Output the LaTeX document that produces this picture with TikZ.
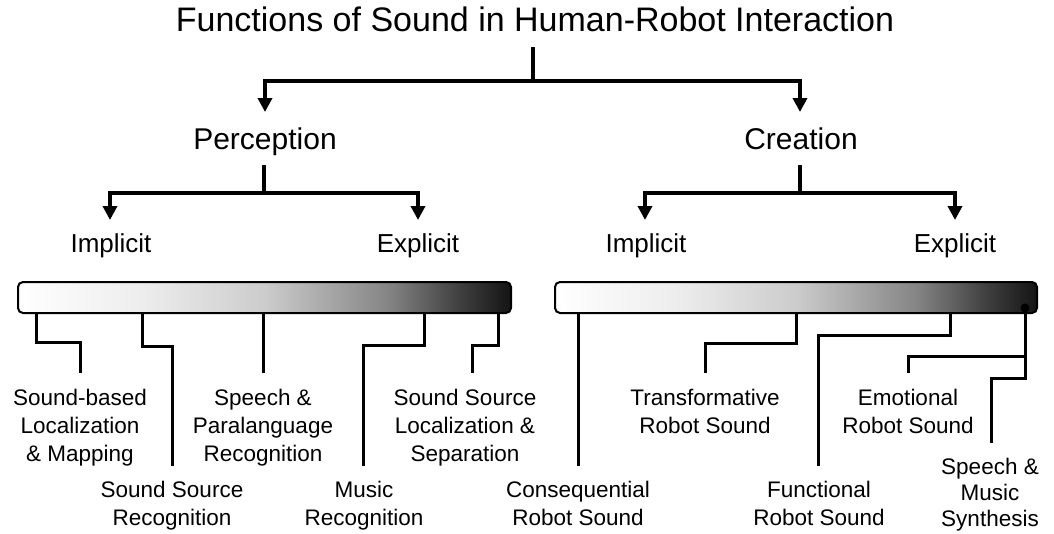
\documentclass[tikz,border=0pt]{standalone}
\usepackage{fontspec}
\setmainfont{Liberation Sans}
\usetikzlibrary{arrows.meta}
\pgfdeclarehorizontalshading{barshade}{100bp}{color(0bp)=(white); color(25bp)=(white); color(37.5bp)=(white!93!black); color(50bp)=(white!80!black); color(62.5bp)=(white!52!black); color(70bp)=(white!24!black); color(75bp)=(white!8!black); color(100bp)=(white!8!black)}
\begin{document}
\begin{tikzpicture}[x=1pt,y=-1pt,
  arr/.style={line width=4pt,-{Triangle[width=14pt,length=14pt]}},
  conn/.style={line width=3pt},
  bar/.style={draw=black,line width=2pt,rounded corners=5pt,shading=barshade,minimum width=493pt,minimum height=31pt,inner sep=0pt},
  ttl/.style={font=\fontsize{34}{40}\selectfont,anchor=base,inner sep=0pt},
  lvl/.style={font=\fontsize{30}{36}\selectfont,anchor=base,inner sep=0pt},
  sub/.style={font=\fontsize{26}{31}\selectfont,anchor=base,inner sep=0pt},
  leaf/.style={font=\fontsize{22.5}{28}\selectfont,anchor=north,align=center,inner sep=0pt}]
\useasboundingbox (0,0) rectangle (1054,533);

% texts
\node[ttl] (title) at (535,31) {Functions of Sound in Human-Robot Interaction};
\node[lvl] (perc) at (265,149) {Perception};
\node[lvl] (crea) at (801,149) {Creation};
\node[sub] (pimp) at (111,252) {Implicit};
\node[sub] (pexp) at (418,252) {Explicit};
\node[sub] (cimp) at (646,252) {Implicit};
\node[sub] (cexp) at (955,252) {Explicit};

% tree coordinates
\coordinate (ts) at (533,47);
\coordinate (tj) at (533,81);
\coordinate (pa) at (265,112);
\coordinate (ca) at (800,112);
\coordinate (ps) at (264,165);
\coordinate (pj) at (264,193);
\coordinate (pia) at (110,220);
\coordinate (pea) at (418,220);
\coordinate (cs) at (800,165);
\coordinate (cj) at (800,193);
\coordinate (cia) at (645,220);
\coordinate (cea) at (955,220);

\draw[arr] (ts) -- (tj) -| (pa);
\draw[arr] (ts) -- (tj) -| (ca);
\draw[arr] (ps) -- (pj) -| (pia);
\draw[arr] (ps) -- (pj) -| (pea);
\draw[arr] (cs) -- (cj) -| (cia);
\draw[arr] (cs) -- (cj) -| (cea);

% leaves
\node[leaf] (l1) at (80,388.5) {Sound-based\\Localization\\\& Mapping};
\node[leaf] (l2) at (172,480.5) {Sound Source\\Recognition};
\node[leaf] (l3) at (263,388.5) {Speech \&\\Paralanguage\\Recognition};
\node[leaf] (l4) at (364,480.5) {Music\\Recognition};
\node[leaf] (l5) at (465,388.5) {Sound Source\\Localization \&\\Separation};
\node[leaf] (r1) at (578,480.5) {Consequential\\Robot Sound};
\node[leaf] (r2) at (705,388.5) {Transformative\\Robot Sound};
\node[leaf] (r3) at (819,480.5) {Functional\\Robot Sound};
\node[leaf] (r4) at (908,388.5) {Emotional\\Robot Sound};
\node[leaf,font=\fontsize{22.5}{26}\selectfont] (r5) at (990,457.5) {Speech \&\\Music\\Synthesis};

% connector coordinates
\coordinate (a1) at (36,312);   \coordinate (b1) at (36,342);   \coordinate (e1) at (80,373);
\coordinate (a2) at (142,312);  \coordinate (b2) at (142,346);  \coordinate (e2) at (172,466);
\coordinate (a3) at (263,312);  \coordinate (e3) at (263,373);
\coordinate (a4) at (424,312);  \coordinate (b4) at (424,345);  \coordinate (e4) at (363,466);
\coordinate (a5) at (498,312);  \coordinate (b5) at (498,345);  \coordinate (e5) at (472,373);
\coordinate (c1) at (578,312);  \coordinate (f1) at (578,466);
\coordinate (c2) at (796,312);  \coordinate (d2) at (796,343);  \coordinate (f2) at (705,373);
\coordinate (c3) at (950,312);  \coordinate (d3) at (950,335);  \coordinate (f3) at (818,466);
\coordinate (dot) at (1025,308);
\coordinate (d4) at (1025,356); \coordinate (f4) at (908,373);
\coordinate (d5) at (1025,378); \coordinate (f5) at (991,443);

\draw[conn] (a1) -- (b1) -| (e1);
\draw[conn] (a2) -- (b2) -| (e2);
\draw[conn] (a3) -- (e3);
\draw[conn] (a4) -- (b4) -| (e4);
\draw[conn] (a5) -- (b5) -| (e5);
\draw[conn] (c1) -- (f1);
\draw[conn] (c2) -- (d2) -| (f2);
\draw[conn] (c3) -- (d3) -| (f3);

% bars
\node[bar] (pbar) at (264.5,297.5) {};
\node[bar, minimum width=482pt] (cbar) at (796,297.5) {};

\draw[conn] (dot) -- (d4) -| (f4);
\draw[conn] (d4) -- (d5) -| (f5);
\fill (dot) circle (4.5pt);
\end{tikzpicture}
\end{document}
